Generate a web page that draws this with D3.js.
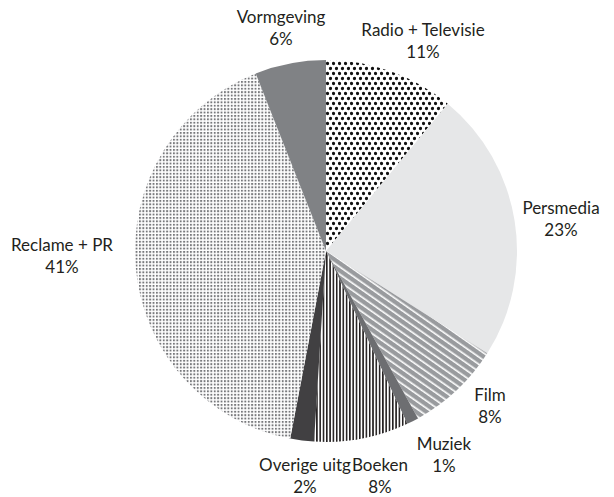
<!DOCTYPE html>
<html>
<head>
<meta charset="utf-8">
<script src="https://d3js.org/d3.v7.min.js"></script>
<style>
  body { margin: 0; background: #fff; }
  text { font-family: Lato, "Open Sans", sans-serif; font-size: 17px; fill: #231f20; }
</style>
</head>
<body>
<div id="chart"></div>
<script>
'use strict';

// Data, clockwise from the top
var categories = ['Radio + Televisie', 'Persmedia', 'Film', 'Muziek', 'Boeken', 'Overige uitg', 'Reclame + PR', 'Vormgeving'];
var shares     = [11, 23, 8, 1, 8, 2, 41, 6];
var pctLabels  = ['11%', '23%', '8%', '1%', '8%', '2%', '41%', '6%'];

// Fills: pattern ids or plain colours
var fills = ['url(#dots)', '#e6e7e8', 'url(#diag)', '#6d6e71', 'url(#vlines)', '#414042', 'url(#checks)', '#808285'];

// Label anchors (first line baseline)
var labelPos = [[423, 36], [561, 214], [490, 401], [444, 450], [380, 471], [305, 471], [62, 251], [281, 23]];

var width = 614, height = 497;
var cx = 326, cy = 251, radius = 191;

var svg = d3.select('#chart').append('svg')
  .attr('width', width)
  .attr('height', height);

var defs = svg.append('defs');

// black dots on white, staggered
var p = defs.append('pattern').attr('id', 'dots')
  .attr('patternUnits', 'userSpaceOnUse').attr('width', 6).attr('height', 10);
p.append('rect').attr('width', 6).attr('height', 10).attr('fill', '#fff');
p.append('circle').attr('cx', 1.5).attr('cy', 2.5).attr('r', 1.65).attr('fill', '#111');
p.append('circle').attr('cx', 4.5).attr('cy', 7.5).attr('r', 1.65).attr('fill', '#111');

// white diagonal stripes on grey
p = defs.append('pattern').attr('id', 'diag')
  .attr('patternUnits', 'userSpaceOnUse').attr('width', 6).attr('height', 6)
  .attr('patternTransform', 'rotate(-55)');
p.append('rect').attr('width', 6).attr('height', 6).attr('fill', '#999b9e');
p.append('rect').attr('x', 0).attr('width', 1.6).attr('height', 6).attr('fill', '#fff');

// vertical black stripes
p = defs.append('pattern').attr('id', 'vlines')
  .attr('patternUnits', 'userSpaceOnUse').attr('width', 3.3).attr('height', 10);
p.append('rect').attr('width', 3.3).attr('height', 10).attr('fill', '#fff');
p.append('rect').attr('width', 1.6).attr('height', 10).attr('fill', '#231f20');

// small grey squares
p = defs.append('pattern').attr('id', 'checks')
  .attr('patternUnits', 'userSpaceOnUse').attr('width', 3.4).attr('height', 3.4);
p.append('rect').attr('width', 3.4).attr('height', 3.4).attr('fill', '#fff');
p.append('rect').attr('width', 1.9).attr('height', 1.9).attr('fill', '#77787b');

var pie = d3.pie().sort(null).value(function(d) { return d; });
var arc = d3.arc().innerRadius(0).outerRadius(radius);

var g = svg.append('g').attr('transform', 'translate(' + cx + ',' + cy + ')');

g.selectAll('path')
  .data(pie(shares))
  .enter().append('path')
  .attr('d', arc)
  .attr('fill', function(d, i) { return fills[i]; });

var labels = svg.selectAll('g.label')
  .data(categories)
  .enter().append('g')
  .attr('class', 'label')
  .attr('transform', function(d, i) { return 'translate(' + labelPos[i][0] + ',' + labelPos[i][1] + ')'; });

labels.append('text')
  .attr('text-anchor', 'middle')
  .text(function(d) { return d; });

labels.append('text')
  .attr('text-anchor', 'middle')
  .attr('y', 21.5)
  .text(function(d, i) { return pctLabels[i]; });
</script>
</body>
</html>
